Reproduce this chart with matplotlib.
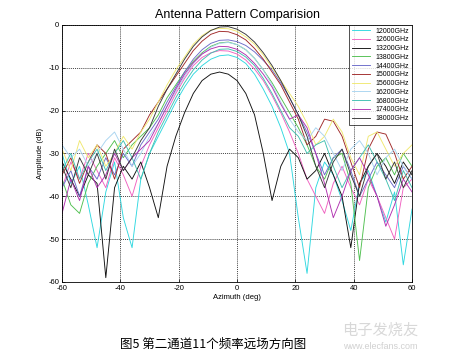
import matplotlib
matplotlib.use('Agg')
import matplotlib.pyplot as plt

# azimuth grid (deg)
azimuth = list(range(-60, 61, 3))

labels = ['12000GHz', '12600GHz', '13200GHz', '13800GHz', '14400GHz', '15000GHz',
          '15600GHz', '16200GHz', '16800GHz', '17400GHz', '18000GHz']
colors = ['#2fd8e0', '#f060c0', '#101010', '#50c050', '#6a6ac8', '#a02828',
          '#f0e870', '#a8d4f0', '#40c0b0', '#b030b0', '#383838']

# amplitude (dB)
amp_12000 = [-30, -37, -33, -42, -52, -39, -32, -45, -52, -36, -30, -26, -22, -18, -14.5, -11.5, -9.5, -8, -7.2, -7.0,
             -7.6, -9, -11.5, -15, -19, -24, -30, -45, -58, -38, -32, -35, -41, -48, -37, -34, -40, -46, -39, -56, -43]
amp_12600 = [-38, -32, -36, -30, -34, -38, -31, -35, -40, -33, -28, -24, -20, -16, -12.5, -9.5, -7.6, -6.5, -6.0, -6.1,
             -6.8, -8.2, -10.3, -13, -16.5, -20.5, -25, -30, -36, -40, -44, -37, -33, -38, -42, -36, -40, -45, -50, -38, -36]
amp_13200 = [-32, -36, -40, -35, -37, -59, -38, -33, -36, -32, -38, -45, -33, -26, -20.5, -16, -13, -11.5, -11, -11.5,
             -13, -16, -21, -30, -41, -33, -29, -31, -36, -34, -30, -35, -40, -52, -37, -33, -30, -33, -37, -32, -35]
amp_13800 = [-36, -42, -44, -37, -33, -30, -27, -31, -28, -26, -24, -21, -17, -14, -11, -8.5, -6.5, -5, -4.2, -4.0,
             -4.6, -5.8, -7.8, -10.5, -13.5, -17, -20.5, -24, -28, -33, -36, -31, -30, -37, -55, -38, -33, -31, -35, -30, -33]
amp_14400 = [-38, -34, -40, -33, -36, -31, -35, -30, -33, -28, -25, -22, -18, -14.5, -11, -8, -5.8, -4.3, -3.6, -3.5,
             -3.9, -4.8, -6.3, -8.3, -10.5, -13.5, -17, -21, -25, -30, -35, -31, -29, -34, -40, -36, -32, -35, -38, -33, -36]
amp_15000 = [-35, -31, -37, -32, -28, -30, -36, -29, -27, -25, -21, -18, -15, -12, -9, -6, -3.8, -2.2, -1.5, -1.6,
             -2.3, -3.5, -5.5, -8, -11, -14, -18, -22, -28, -26, -22, -22.5, -26, -32, -38, -29, -25, -25.5, -30, -36, -33]
amp_15600 = [-29, -34, -27, -31, -28, -33, -30, -26, -29, -25, -22, -18, -14, -10.5, -7.5, -4.5, -2.5, -1.2, -0.8, -0.9,
             -1.5, -2.8, -4.5, -7, -10, -13, -16, -19, -23, -28, -26, -22, -25, -31, -35, -26, -25, -29, -33, -30, -28]
amp_16200 = [-28, -31, -29, -33, -30, -27, -25, -29, -33, -30, -26, -23, -19, -15.5, -12, -9, -6.8, -5.2, -4.3, -4.1,
             -4.6, -5.8, -7.8, -10.5, -14, -18, -22, -25, -27, -24, -26, -30, -34, -29, -27, -30, -35, -31, -29, -33, -36]
amp_16800 = [-34, -30, -36, -32, -29, -34, -30, -27, -31, -36, -30, -25, -21, -17, -13.5, -10.5, -8.2, -6.6, -5.7, -5.6,
             -6.2, -7.5, -9.5, -12.5, -16, -20, -24, -26, -30, -28, -27, -33, -38, -34, -31, -28, -32, -36, -41, -34, -38]
amp_17400 = [-44, -36, -41, -33, -38, -35, -30, -34, -31, -29, -27, -23, -19, -15, -11.5, -8.8, -6.8, -5.6, -5.0, -5.1,
             -5.7, -7.0, -9, -11.5, -14.5, -18.5, -22, -21, -24, -30, -37, -45, -40, -34, -31, -35, -40, -47, -42, -36, -39]
amp_18000 = [-33, -38, -31, -35, -30, -36, -29, -34, -31, -27, -24, -19, -15, -11.5, -8, -5, -2.8, -1.3, -0.5, -0.4,
             -1.0, -2.2, -4, -6.5, -9.5, -13, -17, -21, -26, -33, -38, -32, -29, -35, -40, -33, -30, -36, -32, -38, -34]

series = [amp_12000, amp_12600, amp_13200, amp_13800, amp_14400, amp_15000,
          amp_15600, amp_16200, amp_16800, amp_17400, amp_18000]

plt.rcParams['font.family'] = ['Liberation Sans', 'DejaVu Sans']
plt.rcParams['axes.unicode_minus'] = False

fig = plt.figure(figsize=(4.53, 3.61), dpi=100)
ax = fig.add_axes([0.137, 0.219, 0.7726, 0.712])

for vals, lab, col in zip(series, labels, colors):
    ax.plot(azimuth, vals, color=col, linewidth=0.65, label=lab)

ax.set_xlim(-60, 60)
ax.set_ylim(-60, 0)
ax.set_xticks(range(-60, 61, 20))
ax.set_yticks(range(-60, 1, 10))
ax.tick_params(direction='in', labelsize=5.5, length=2, width=0.5, pad=2)
ax.grid(True, linestyle=(0, (1.5, 1.5)), color='black', linewidth=0.5)
for s in ax.spines.values():
    s.set_linewidth(0.6)

ax.set_xlabel('Azimuth (deg)', fontsize=5.5, labelpad=2)
ax.set_ylabel('Amplitude (dB)', fontsize=5.5, labelpad=3)
ax.set_title('Antenna Pattern Comparision', fontsize=9, pad=5)

leg = ax.legend(loc='upper right', fontsize=5, frameon=True, fancybox=False,
                borderpad=0.4, labelspacing=0.25, handlelength=2.6, handletextpad=0.8,
                borderaxespad=0)
leg.get_frame().set_edgecolor('black')
leg.get_frame().set_linewidth(0.6)

fig.text(0.47, 0.045, '图5 第二通道11个频率远场方向图', fontsize=9,
         ha='center', va='center', family=['Noto Sans CJK SC', 'DejaVu Sans'])

# faint watermark
fig.text(0.84, 0.085, '电子发烧友', fontsize=11, color='#d8d8d8', ha='center',
         va='center', family=['Noto Sans CJK SC', 'DejaVu Sans'])
fig.text(0.84, 0.04, 'www.elecfans.com', fontsize=6.5, color='#d0d0d0', ha='center', va='center')

fig.savefig('out.png', dpi=100)
